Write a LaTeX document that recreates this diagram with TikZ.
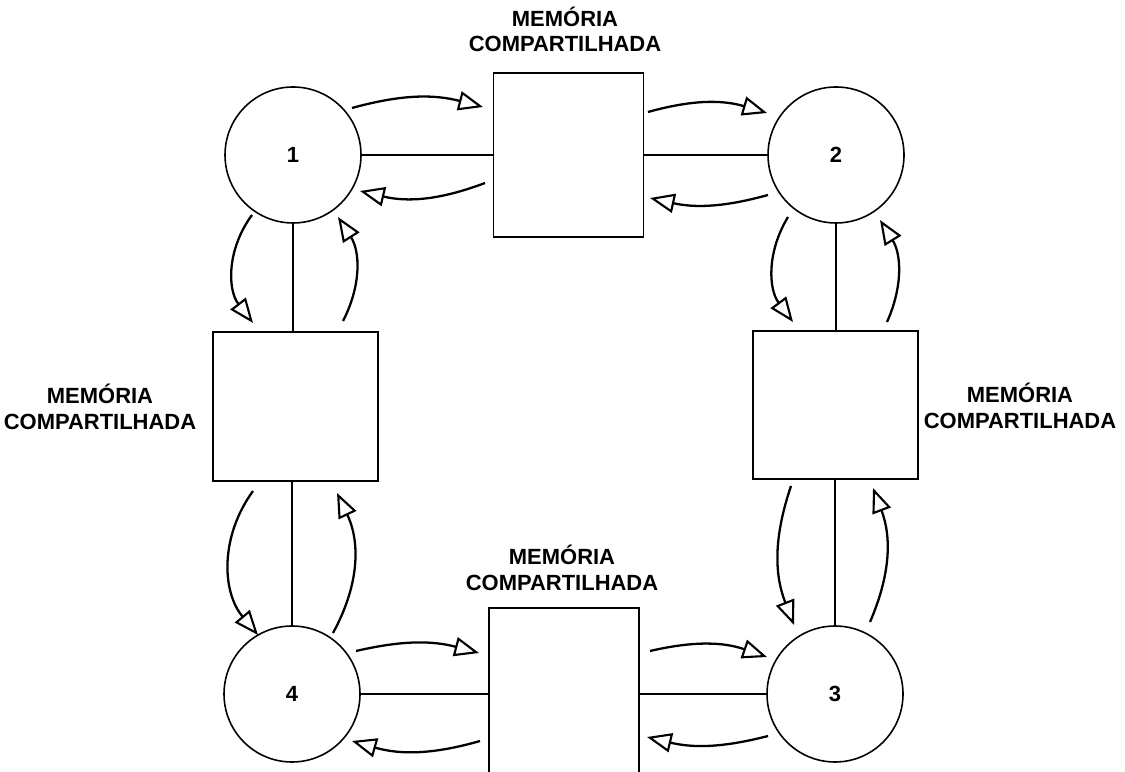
\documentclass[tikz,border=0pt]{standalone}
\usepackage{fontspec}
\setmainfont{Liberation Sans}
\usetikzlibrary{arrows.meta,calc}

\begin{document}
\begin{tikzpicture}[
    proc/.style={draw,circle,line width=0.9pt,minimum size=2.72cm,inner sep=0pt,font=\bfseries\fontsize{12.5}{14.5}\selectfont},
    mem/.style={draw,rectangle,line width=0.9pt,inner sep=0pt},
    memtext/.style={align=center,font=\bfseries\fontsize{12.5}{14.5}\selectfont},
    bus/.style={line width=0.9pt},
    flow/.style={line width=1.3pt,-{Triangle[open,length=14pt,width=11pt,line width=1.2pt]}},
  ]
  \useasboundingbox (0,0) rectangle (22.5,15.42);

  % processors
  \node[proc] (c1) at (5.86,12.32) {1};
  \node[proc] (c2) at (16.72,12.32) {2};
  \node[proc] (c3) at (16.70,1.54) {3};
  \node[proc] (c4) at (5.84,1.54) {4};

  % shared memories
  \node[mem,minimum width=3cm,minimum height=3.28cm] (mtop) at (11.37,12.32) {};
  \node[mem,minimum width=3cm,minimum height=3.4cm] (mbot) at (11.28,1.56) {};
  \node[mem,minimum width=3.3cm,minimum height=2.98cm] (mleft) at (5.91,7.29) {};
  \node[mem,minimum width=3.3cm,minimum height=2.96cm] (mright) at (16.71,7.32) {};

  \node[memtext] (ttop) at (11.30,14.83) {MEMÓRIA\\COMPARTILHADA};
  \node[memtext] (tbot) at (11.24,4.06) {MEMÓRIA\\COMPARTILHADA};
  \node[memtext] (tleft) at (2.00,7.28) {MEMÓRIA\\COMPARTILHADA};
  \node[memtext] (tright) at (20.40,7.30) {MEMÓRIA\\COMPARTILHADA};

  % buses
  \draw[bus] (c1.east) -- (c1.east -| mtop.west);
  \draw[bus] (mtop.east |- c2.west) -- (c2.west);
  \draw[bus] (c4.east) -- (c4.east -| mbot.west);
  \draw[bus] (mbot.east |- c3.west) -- (c3.west);
  \draw[bus] (c1.south) -- (c1.south |- mleft.north);
  \draw[bus] (mleft.south -| c4.north) -- (c4.north);
  \draw[bus] (c2.south) -- (c2.south |- mright.north);
  \draw[bus] (mright.south -| c3.north) -- (c3.north);

  % read / write
  \draw[flow] ($(c1)+(1.18,0.94)$) to[bend left=15] ($(mtop)+(-1.71,0.96)$);
  \draw[flow] ($(mtop)+(-1.67,-0.56)$) to[bend left=17] ($(c1)+(1.34,-0.72)$);
  \draw[flow] ($(mtop)+(1.59,0.86)$) to[bend left=16] ($(c2)+(-1.38,0.84)$);
  \draw[flow] ($(c2)+(-1.36,-0.80)$) to[bend left=14] ($(mtop)+(1.63,-0.86)$);

  \draw[flow] ($(c1)+(-0.82,-1.20)$) to[bend right=37] ($(mleft)+(-0.85,1.67)$);
  \draw[flow] ($(mleft)+(0.95,1.71)$) to[bend right=30] ($(c1)+(0.90,-1.24)$);
  \draw[flow] ($(mleft)+(-0.85,-1.69)$) to[bend right=38] ($(c4)+(-0.68,1.18)$);
  \draw[flow] ($(c4)+(0.82,1.22)$) to[bend right=27] ($(mleft)+(0.83,-1.73)$);

  \draw[flow] ($(c2)+(-0.96,-1.24)$) to[bend right=34] ($(mright)+(-0.85,1.66)$);
  \draw[flow] ($(mright)+(1.03,1.66)$) to[bend right=28] ($(c2)+(0.88,-1.30)$);
  \draw[flow] ($(mright)+(-0.89,-1.62)$) to[bend right=20] ($(c3)+(-0.82,1.38)$);
  \draw[flow] ($(c3)+(0.70,1.44)$) to[bend right=22] ($(mright)+(0.75,-1.66)$);

  \draw[flow] ($(c4)+(1.28,0.86)$) to[bend left=14] ($(mbot)+(-1.70,0.80)$);
  \draw[flow] ($(mbot)+(-1.68,-0.96)$) to[bend left=16] ($(c4)+(1.20,-0.94)$);
  \draw[flow] ($(mbot)+(1.72,0.84)$) to[bend left=16] ($(c3)+(-1.36,0.74)$);
  \draw[flow] ($(c3)+(-1.34,-0.84)$) to[bend left=14] ($(mbot)+(1.66,-0.88)$);
\end{tikzpicture}
\end{document}
